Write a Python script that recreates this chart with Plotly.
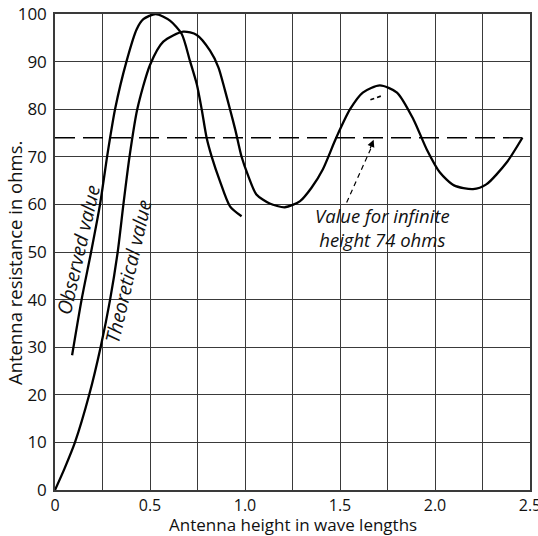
import plotly.graph_objects as go

# Theoretical value curve
theo_x = [0, 0.05, 0.105, 0.18, 0.24, 0.29, 0.33, 0.36, 0.392, 0.433, 0.5, 0.57, 0.675,
          0.746, 0.816, 0.86, 0.895, 0.921, 0.95, 0.982, 1.017, 1.06, 1.13, 1.21, 1.29,
          1.35, 1.41, 1.48, 1.553, 1.62, 1.71, 1.80, 1.886, 1.956, 2.026, 2.10, 2.2,
          2.27, 2.377, 2.46]
theo_y = [0, 4.5, 10, 20, 30, 40, 50, 60, 70, 80, 89.3, 94.2, 96.3,
          95.6, 92.3, 88.8, 83.9, 80, 75.5, 70, 66, 62.1, 60.2, 59.4, 60.7,
          63.5, 67.4, 74, 80, 83.5, 85, 83.5, 77.9, 71.6, 66.7, 64, 63.2,
          64.2, 68.8, 74]

# Observed value curve
obs_x = [0.09, 0.14, 0.19, 0.237, 0.274, 0.29, 0.316, 0.376, 0.43, 0.465, 0.53, 0.605,
         0.667, 0.71, 0.746, 0.772, 0.798, 0.825, 0.868, 0.921, 0.982]
obs_y = [28.3, 40, 50, 60, 70, 74, 80, 90, 96.8, 98.9, 100, 98.6,
         95.8, 90.2, 85.3, 80, 74, 70, 64.9, 59.6, 57.5]

# Value for infinite height
inf_value = 74
inf_x = [0, 2.46]

x_ticks = [0, 0.25, 0.5, 0.75, 1.0, 1.25, 1.5, 1.75, 2.0, 2.25, 2.5]
x_ticktext = ["0", "", "0.5", "", "1.0", "", "1.5", "", "2.0", "", "2.5"]
y_ticks = [0, 10, 20, 30, 40, 50, 60, 70, 80, 90, 100]

FONT = "Open Sans"
GRID = "#3a3a3a"
TXT = "#111111"

fig = go.Figure()
fig.add_trace(go.Scatter(x=theo_x, y=theo_y, mode="lines",
                         line=dict(color="black", width=2.3, shape="spline", smoothing=0.7),
                         showlegend=False, hoverinfo="skip"))
fig.add_trace(go.Scatter(x=obs_x, y=obs_y, mode="lines",
                         line=dict(color="black", width=2.3, shape="spline", smoothing=0.7),
                         showlegend=False, hoverinfo="skip"))
fig.add_trace(go.Scatter(x=inf_x, y=[inf_value, inf_value], mode="lines",
                         line=dict(color="black", width=1.4, dash="20px,8px"),
                         showlegend=False, hoverinfo="skip"))

# dashed pointer arrow
fig.add_shape(type="line", x0=1.535, y0=60.4, x1=1.672, y1=72.6,
              line=dict(color="black", width=1.2, dash="5px,4px"))
fig.add_shape(type="line", x0=1.66, y0=82.0, x1=1.726, y1=82.9,
              line=dict(color="black", width=1.6, dash="4px,3px"))
fig.add_annotation(x=1.677, y=73.6, xref="x", yref="y", ax=-4, ay=10,
                   showarrow=True, arrowhead=2, arrowsize=1.2, arrowwidth=1.2,
                   arrowcolor="black", text="")

fig.add_annotation(x=1.724, y=55.2, xref="x", yref="y", showarrow=False,
                   text="<i>Value for infinite<br>height 74 ohms</i>",
                   font=dict(family=FONT, size=18.5, color=TXT), align="center",
                   xanchor="center", yanchor="middle")

fig.add_annotation(x=0.122, y=50.5, xref="x", yref="y", showarrow=False,
                   text="<i>Observed value</i>", textangle=-77,
                   font=dict(family=FONT, size=19.5, color=TXT))
fig.add_annotation(x=0.384, y=45.9, xref="x", yref="y", showarrow=False,
                   text="<i>Theoretical value</i>", textangle=-77,
                   font=dict(family=FONT, size=19.5, color=TXT))

fig.add_annotation(x=-0.084, y=0.477, xref="paper", yref="paper", showarrow=False,
                   text="Antenna resistance in ohms.", textangle=-90,
                   font=dict(family=FONT, size=18.5, color=TXT),
                   xanchor="center", yanchor="middle")
fig.add_annotation(x=0.5, y=-0.0725, xref="paper", yref="paper", showarrow=False,
                   text="Antenna height in wave lengths",
                   font=dict(family=FONT, size=17, color=TXT),
                   xanchor="center", yanchor="middle")

fig.update_layout(
    width=538, height=536,
    margin=dict(l=55, r=8, t=14, b=46, autoexpand=False),
    paper_bgcolor="white", plot_bgcolor="white",
    font=dict(family=FONT, size=16, color=TXT),
    xaxis=dict(range=[0, 2.5], tickmode="array", tickvals=x_ticks, ticktext=x_ticktext,
               showgrid=True, gridcolor=GRID, gridwidth=1.3, zeroline=False,
               showline=True, linecolor=GRID, linewidth=1.5, mirror=True, automargin=False,
               ticks="", ticklabelstandoff=0, ticklabeloverflow="allow",
               tickfont=dict(size=16)),
    yaxis=dict(range=[0, 100], tickmode="array", tickvals=y_ticks,
               showgrid=True, gridcolor=GRID, gridwidth=1.3, zeroline=False,
               showline=True, linecolor=GRID, linewidth=1.5, mirror=True, automargin=False,
               ticks="", ticklabelstandoff=3, ticklabeloverflow="allow",
               tickfont=dict(size=17)),
)

fig.write_html("out.html", config={"displayModeBar": False},
               post_script="document.body.style.margin='0';")
